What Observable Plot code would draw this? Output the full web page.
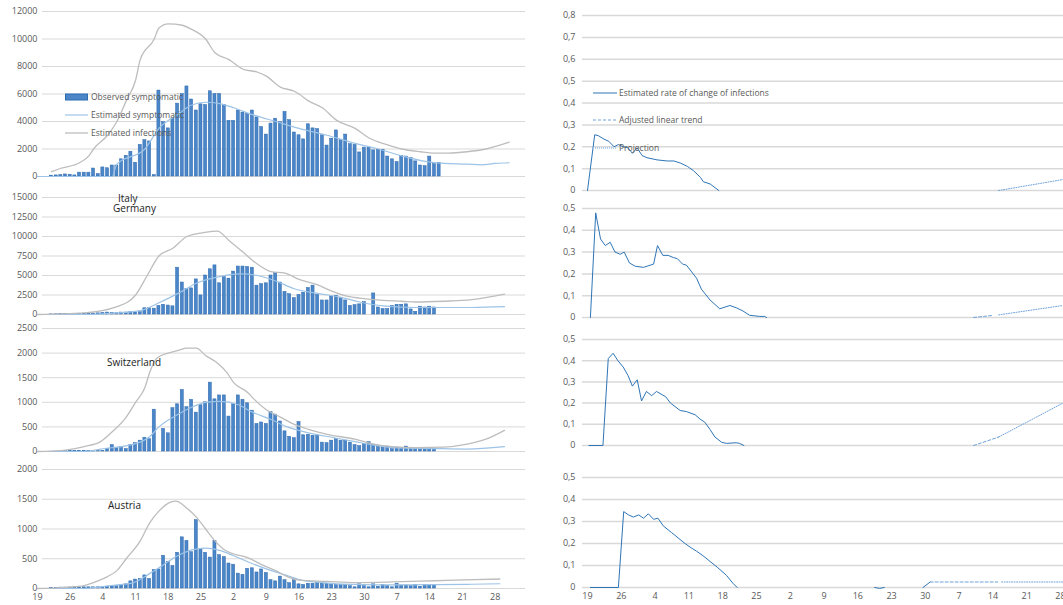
<!DOCTYPE html>
<html>
<head>
<meta charset="utf-8">
<script src="https://cdn.jsdelivr.net/npm/d3@7"></script>
<script src="https://cdn.jsdelivr.net/npm/@observablehq/plot@0.6"></script>
<style>
  body { margin: 0; background: #fff; font-family: "Open Sans", "Liberation Sans", sans-serif; }
  #wrap { position: relative; width: 1063px; height: 605px; overflow: hidden; }
  .panel { position: absolute; }
  .lbl { position: absolute; font-size: 10px; color: #222; white-space: nowrap; }
  .leg { position: absolute; font-size: 8.5px; color: #595959; white-space: nowrap; display: flex; align-items: center; }
  .leg svg { margin-right: 2px; }
</style>
</head>
<body>
<div id="wrap"></div>
<script>
// ---- x axis (days since first date) ----
const tickDays = [0, 7, 14, 21, 28, 35, 42, 49, 56, 63, 70, 77, 84, 91, 98];
const tickLabels = ["19", "26", "4", "11", "18", "25", "2", "9", "16", "23", "30", "7", "14", "21", "28"];

// ---- observed symptomatic (daily bars) : first day + values ----
const italyBarStart = 3;
const italyBars = [60, 80, 100, 150, 130, 80, 280, 280, 280, 580, 180, 660, 600, 800, 800, 1250, 1500, 1800, 1000, 2300, 2650, 2550, 100, 6250, 3950, 3500, 4200, 5300, 6000, 6550, 5600, 4800, 5250, 5200, 6200, 6000, 6000, 5200, 4050, 4050, 4800, 4650, 4550, 4800, 4300, 3600, 3050, 3850, 4200, 3950, 4700, 4100, 3200, 3000, 2700, 3800, 3500, 3450, 3000, 2250, 2750, 3350, 2650, 3050, 2350, 2300, 1750, 2100, 2100, 1900, 1950, 1950, 1450, 1250, 1050, 1500, 1450, 1350, 1100, 800, 750, 1450, 900, 1000];
const germanyBarStart = 3;
const germanyBars = [20, 30, 50, 60, 80, 100, 100, 100, 100, 120, 150, 200, 250, 200, 150, 250, 250, 300, 250, 300, 800, 800, 750, 1100, 1250, 1150, 1050, 6000, 4100, 3300, 3350, 4500, 2450, 5000, 5800, 6300, 4000, 4800, 4600, 5500, 6150, 6150, 6100, 6000, 3700, 3900, 4000, 5000, 5300, 4100, 2900, 2600, 2100, 2500, 2800, 3400, 3700, 2500, 1800, 1800, 2300, 2400, 2100, 1800, 1100, 1200, 1300, 1600, 0, 2700, 900, 700, 700, 1100, 1250, 1250, 1300, 650, 350, 1000, 900, 1000, 900];
const swissBarStart = 6;
const swissBars = [10, 10, 10, 10, 10, 10, 10, 10, 10, 50, 130, 70, 90, 50, 130, 170, 220, 280, 250, 850, 0, 460, 370, 880, 960, 1250, 900, 1050, 790, 940, 1000, 1400, 1060, 1140, 1140, 710, 960, 1140, 1050, 980, 830, 560, 590, 560, 800, 750, 610, 410, 300, 270, 600, 330, 340, 320, 330, 180, 170, 220, 250, 220, 220, 180, 130, 110, 150, 190, 130, 110, 100, 100, 50, 80, 70, 100, 70, 70, 70, 50, 50, 60];
const austriaBarStart = 3;
const austriaBars = [10, 10, 15, 15, 15, 20, 20, 20, 20, 20, 20, 25, 30, 40, 40, 50, 70, 120, 150, 160, 220, 160, 310, 320, 550, 450, 380, 600, 860, 800, 610, 1150, 660, 600, 520, 800, 560, 530, 420, 400, 250, 230, 330, 340, 270, 320, 260, 140, 120, 200, 140, 90, 160, 70, 60, 80, 80, 100, 80, 80, 60, 60, 60, 60, 40, 20, 70, 40, 20, 70, 30, 60, 40, 20, 80, 50, 50, 40, 60, 30, 60, 50, 60];

// ---- estimated symptomatic (light blue) ----
const italySympDays = [0, 16, 17, 23, 26, 30, 33, 36, 39, 42, 46, 51, 56, 62, 67, 73, 78, 83, 87, 92, 95, 98, 101];
const italySympVals = [0, 0, 900, 2000, 3500, 4500, 5200, 5400, 5300, 5000, 4500, 4000, 3500, 3000, 2500, 2000, 1500, 1100, 950, 900, 850, 950, 1000];
const germanySympDays = [0, 10, 17, 22, 26, 31, 34, 38.5, 43.5, 47, 51, 55, 60, 65, 69, 74, 81, 87, 93, 100];
const germanySympVals = [0, 0, 200, 500, 1500, 3000, 4000, 4800, 5200, 5000, 4300, 3300, 2700, 2200, 1600, 1100, 900, 900, 900, 1000];
const swissSympDays = [0, 10, 13.5, 20.6, 24, 26, 30, 33, 36, 39, 43, 46, 50, 53.5, 58, 63.5, 68, 72, 76, 85, 92, 100];
const swissSympVals = [0, 0, 50, 150, 300, 500, 750, 900, 1000, 1020, 950, 800, 650, 500, 380, 280, 200, 130, 80, 60, 50, 100];
const austriaSympDays = [0, 10, 15.6, 20.6, 24, 27, 30, 33, 36, 39, 42, 45, 49, 53, 56, 61, 67, 78, 92, 99];
const austriaSympVals = [0, 0, 50, 100, 250, 400, 550, 650, 680, 640, 550, 450, 330, 230, 150, 100, 70, 60, 70, 80];

// ---- estimated infections (grey) ----
const italyInfDays = [3, 5, 9, 11, 12, 15, 17, 19, 21, 22, 25, 26, 28, 31, 33, 36, 38, 41, 44, 47, 49, 52, 55, 56, 58, 61, 64, 68, 71, 75, 78, 82, 85, 88, 92, 96, 101];
const italyInfVals = [350, 600, 1000, 1500, 2000, 3000, 4000, 5500, 7000, 8500, 10000, 10800, 11100, 11000, 10700, 10000, 9000, 8500, 7800, 7600, 7300, 6500, 6200, 6000, 5500, 5000, 4100, 3500, 2800, 2300, 2000, 1800, 1700, 1700, 1800, 2000, 2500];
const germanyInfDays = [0, 10, 17, 21, 23.5, 26, 29, 32, 35.6, 38.5, 41, 44, 47, 50, 53, 56, 60, 63, 66, 69, 74, 78, 81, 87, 93, 100];
const germanyInfVals = [0, 200, 1000, 2500, 5000, 7500, 8500, 10000, 10500, 10700, 9500, 8000, 6500, 5500, 5300, 4500, 3800, 3000, 2400, 2100, 1800, 1700, 1600, 1700, 1900, 2600];
const swissInfDays = [0, 6, 10, 13.5, 16, 19, 21, 23, 24, 25.6, 28, 30, 32, 34, 36, 38.5, 40.6, 42, 45, 46, 49, 52, 55, 58, 62, 68, 72, 76, 81, 87, 92, 96, 100];
const swissInfVals = [0, 30, 100, 200, 400, 700, 1000, 1300, 1600, 1900, 2000, 2050, 2100, 2100, 1950, 1800, 1600, 1400, 1200, 1100, 850, 700, 550, 450, 350, 250, 150, 100, 80, 90, 150, 250, 430];
const austriaInfDays = [0, 6, 10, 12, 15, 17, 19, 22, 24, 26, 28.5, 29.6, 32, 34, 36, 38, 40, 42, 45, 48, 51, 53.5, 56, 62, 68, 76, 85, 99];
const austriaInfVals = [0, 20, 50, 100, 200, 300, 500, 800, 1100, 1300, 1450, 1470, 1350, 1200, 1000, 800, 650, 580, 520, 400, 300, 200, 140, 120, 100, 110, 130, 160];

// ---- estimated rate of change of infections ----
const italyRateDays = [0, 1.5, 2.3, 3.4, 4.4, 5.5, 6.4, 7.4, 8.4, 9.3, 10.3, 11.3, 12.3, 14.4, 16.5, 17.9, 19.3, 20.7, 22, 23.4, 24, 25.4, 27.2];
const italyRateVals = [0, 0.255, 0.25, 0.235, 0.225, 0.2, 0.21, 0.2, 0.195, 0.17, 0.195, 0.16, 0.15, 0.14, 0.135, 0.135, 0.125, 0.11, 0.09, 0.06, 0.04, 0.03, 0];
const germanyRateDays = [0.6, 1.7, 2.7, 3.7, 4.7, 5.7, 6.8, 7.6, 8.7, 9.9, 11.6, 13.7, 14.5, 15.6, 16.7, 17.8, 18.6, 19.7, 20.5, 22.6, 23.6, 25.4, 27.4, 29.5, 30.8, 32.2, 33.6, 35.7, 36.7, 37.1];
const germanyRateVals = [0, 0.48, 0.36, 0.33, 0.345, 0.3, 0.29, 0.3, 0.25, 0.235, 0.23, 0.245, 0.33, 0.285, 0.285, 0.275, 0.27, 0.245, 0.24, 0.18, 0.13, 0.08, 0.04, 0.055, 0.045, 0.03, 0.01, 0.005, 0.005, 0];
const swissRateDays = [0.3, 3.2, 4.3, 5.3, 6.3, 7.4, 8.4, 9.3, 10.3, 11.2, 12.2, 13.3, 14.3, 16.2, 17.2, 19.2, 20.5, 22.3, 23.3, 24.3, 25.4, 26.4, 27.8, 28.8, 30.8, 31.5, 32.4];
const swissRateVals = [0, 0, 0.41, 0.435, 0.4, 0.37, 0.33, 0.28, 0.31, 0.21, 0.255, 0.235, 0.255, 0.23, 0.2, 0.165, 0.16, 0.145, 0.125, 0.11, 0.075, 0.04, 0.015, 0.01, 0.013, 0.01, 0];
const austriaRateDays = [0.6, 6.4, 7.5, 8.5, 9.5, 10.6, 11.6, 12.6, 13.7, 14.6, 15.7, 17.4, 20.2, 21.5, 22.6, 23.9, 27, 28.8, 30.1, 31];
const austriaRateVals = [0, 0, 0.345, 0.33, 0.32, 0.33, 0.315, 0.335, 0.31, 0.315, 0.28, 0.25, 0.2, 0.18, 0.165, 0.145, 0.09, 0.055, 0.02, 0];
const austriaRate2Days = [59.5, 60.5, 61.5];
const austriaRate2Vals = [0, -0.004, 0];
const austriaRate3Days = [69.5, 71];
const austriaRate3Vals = [0, 0.025];

// ---- adjusted linear trend (dashed) and projection (dotted) ----
const italyTrendDays = [85.2, 85.2];      const italyTrendVals = [0, 0];
const italyProjDays = [85.2, 98.5];       const italyProjVals = [0, 0.05];
const germanyTrendDays = [80, 84.1];      const germanyTrendVals = [0, 0.01];
const germanyProjDays = [85.2, 98.5];     const germanyProjVals = [0.012, 0.055];
const swissTrendDays = [80, 85.2];        const swissTrendVals = [0, 0.04];
const swissProjDays = [85.2, 98.5];       const swissProjVals = [0.04, 0.2];
const austriaTrendDays = [71, 85];        const austriaTrendVals = [0.025, 0.025];
const austriaProjDays = [85.8, 98.5];     const austriaProjVals = [0.025, 0.025];

const C = { bar: "#4a86c8", barEdge: "#2f6bb0", symp: "#9dc3e6", inf: "#bdbdbd", rate: "#2e75b6", trend: "#6fa3d8", grid: "#d9d9d9", text: "#595959" };

const pts = (days, vals) => days.map((d, i) => ({ day: d, v: vals[i] }));
const bars = (start, vals) => vals.map((v, i) => ({ day: start + i, v }));
const wrap = document.getElementById("wrap");

function place(el, left, top) {
  el.classList.add("panel");
  el.style.left = left + "px";
  el.style.top = top + "px";
  wrap.appendChild(el);
}

function xAxisMark() {
  return Plot.axisX(tickDays, {
    tickSize: 0, tickPadding: 5, fontSize: 9, fill: C.text, label: null,
    tickFormat: (d, i) => tickLabels[i],
  });
}

const baseStyle = { fontFamily: "Open Sans, Liberation Sans, sans-serif", color: C.text, background: "transparent", overflow: "visible" };

// left column: counts
function countPanel(p) {
  const mt = 6, mb = p.last ? 17 : 4;
  const chart = Plot.plot({
    width: 530,
    height: (p.y0 - p.yTop) + mt + mb,
    marginLeft: 42, marginRight: 5, marginTop: mt, marginBottom: mb,
    style: baseStyle,
    x: { domain: [0, 100], range: [37, 504], axis: null },
    y: { domain: [0, p.max], axis: null },
    marks: [
      Plot.gridY(p.ticks, { stroke: C.grid, strokeOpacity: 1, strokeWidth: 1 }),
      Plot.axisY(p.ticks, { tickSize: 0, tickPadding: 5, fontSize: 9, fill: C.text, label: null, tickFormat: d => String(d) }),
      Plot.rectY(bars(p.barStart, p.bars), {
        x1: d => d.day - 0.33, x2: d => d.day + 0.33, y: "v",
        fill: C.bar, stroke: C.barEdge, strokeWidth: 0.5,
      }),
      Plot.line(pts(p.sympDays, p.sympVals), { x: "day", y: "v", stroke: C.symp, strokeWidth: 1.2, curve: "monotone-x" }),
      Plot.line(pts(p.infDays, p.infVals), { x: "day", y: "v", stroke: C.inf, strokeWidth: 1.3, curve: "monotone-x" }),
      p.last ? xAxisMark() : null,
    ],
  });
  place(chart, 0, p.yTop - mt);
}

// right column: rates
function fmtRate(d) { return d === 0 ? "0" : d3.format(".1f")(d).replace(".", ","); }
function ratePanel(p) {
  const mt = 6, mb = p.last ? 17 : 4;
  const ticks = d3.range(0, p.max + 0.001, 0.1).map(v => +v.toFixed(1));
  const chart = Plot.plot({
    width: 523,
    height: (p.y0 - p.yTop) + mt + mb,
    marginLeft: 42, marginRight: 0, marginTop: mt, marginBottom: mb,
    style: baseStyle,
    x: { domain: [0, 98], range: [47, 520], axis: null },
    y: { domain: [0, p.max], axis: null },
    marks: [
      Plot.gridY(ticks, { stroke: C.grid, strokeOpacity: 1, strokeWidth: 1.5 }),
      Plot.axisY(ticks, { tickSize: 0, tickPadding: 7, fontSize: 9, fill: C.text, label: null, tickFormat: fmtRate }),
      Plot.line(pts(p.rateDays, p.rateVals), { x: "day", y: "v", stroke: C.rate, strokeWidth: 1 }),
      ...(p.extra || []).map(e => Plot.line(pts(e[0], e[1]), { x: "day", y: "v", stroke: C.rate, strokeWidth: 1 })),
      Plot.line(pts(p.trendDays, p.trendVals), { x: "day", y: "v", stroke: C.trend, strokeWidth: 1, strokeDasharray: "3,2" }),
      Plot.line(pts(p.projDays, p.projVals), { x: "day", y: "v", stroke: C.trend, strokeWidth: 1, strokeDasharray: "1,1.5" }),
      p.last ? xAxisMark() : null,
    ],
  });
  place(chart, 540, p.yTop - mt);
}

countPanel({ yTop: 11, y0: 176, max: 12000, ticks: d3.range(0, 12001, 2000), barStart: italyBarStart, bars: italyBars, sympDays: italySympDays, sympVals: italySympVals, infDays: italyInfDays, infVals: italyInfVals });
countPanel({ yTop: 197, y0: 314, max: 15000, ticks: d3.range(0, 15001, 2500), barStart: germanyBarStart, bars: germanyBars, sympDays: germanySympDays, sympVals: germanySympVals, infDays: germanyInfDays, infVals: germanyInfVals });
countPanel({ yTop: 328, y0: 451, max: 2500, ticks: d3.range(0, 2501, 500), barStart: swissBarStart, bars: swissBars, sympDays: swissSympDays, sympVals: swissSympVals, infDays: swissInfDays, infVals: swissInfVals });
countPanel({ yTop: 469, y0: 588, max: 2000, ticks: d3.range(0, 2001, 500), barStart: austriaBarStart, bars: austriaBars, sympDays: austriaSympDays, sympVals: austriaSympVals, infDays: austriaInfDays, infVals: austriaInfVals, last: true });

ratePanel({ yTop: 15, y0: 190, max: 0.8, rateDays: italyRateDays, rateVals: italyRateVals, trendDays: italyTrendDays, trendVals: italyTrendVals, projDays: italyProjDays, projVals: italyProjVals });
ratePanel({ yTop: 208, y0: 317, max: 0.5, rateDays: germanyRateDays, rateVals: germanyRateVals, trendDays: germanyTrendDays, trendVals: germanyTrendVals, projDays: germanyProjDays, projVals: germanyProjVals });
ratePanel({ yTop: 339, y0: 445, max: 0.5, rateDays: swissRateDays, rateVals: swissRateVals, trendDays: swissTrendDays, trendVals: swissTrendVals, projDays: swissProjDays, projVals: swissProjVals });
ratePanel({ yTop: 477, y0: 587, max: 0.5, rateDays: austriaRateDays, rateVals: austriaRateVals, extra: [[austriaRate2Days, austriaRate2Vals], [austriaRate3Days, austriaRate3Vals]], trendDays: austriaTrendDays, trendVals: austriaTrendVals, projDays: austriaProjDays, projVals: austriaProjVals, last: true });

// country labels
[["Italy", 118, 191], ["Germany", 113, 201], ["Switzerland", 107, 355], ["Austria", 108, 498]].forEach(([t, x, y]) => {
  const d = document.createElement("div");
  d.className = "lbl"; d.textContent = t; d.style.left = x + "px"; d.style.top = y + "px";
  wrap.appendChild(d);
});

// legends
function legend(x, y, swatch, text) {
  const d = document.createElement("div");
  d.className = "leg"; d.style.left = x + "px"; d.style.top = y + "px";
  d.innerHTML = `<svg width="24" height="8">${swatch}</svg><span>${text}</span>`;
  wrap.appendChild(d);
}
legend(65, 91, `<rect x="0.5" y="1" width="22" height="6" fill="${C.bar}" stroke="${C.barEdge}"/>`, "Observed symptomatic");
legend(65, 109, `<line x1="0" x2="23" y1="4" y2="4" stroke="${C.symp}" stroke-width="1.2"/>`, "Estimated symptomatic");
legend(65, 127, `<line x1="0" x2="23" y1="4" y2="4" stroke="${C.inf}" stroke-width="1.3"/>`, "Estimated infections");
legend(593, 87, `<line x1="0" x2="26" y1="4" y2="4" stroke="${C.rate}" stroke-width="1"/>`, "Estimated rate of change of infections");
legend(593, 114, `<line x1="0" x2="26" y1="4" y2="4" stroke="${C.trend}" stroke-dasharray="3,2"/>`, "Adjusted linear trend");
legend(593, 142, `<line x1="0" x2="26" y1="4" y2="4" stroke="#9dc3e6" stroke-width="1.5" stroke-dasharray="1,1"/>`, "Projection");
</script>
</body>
</html>
